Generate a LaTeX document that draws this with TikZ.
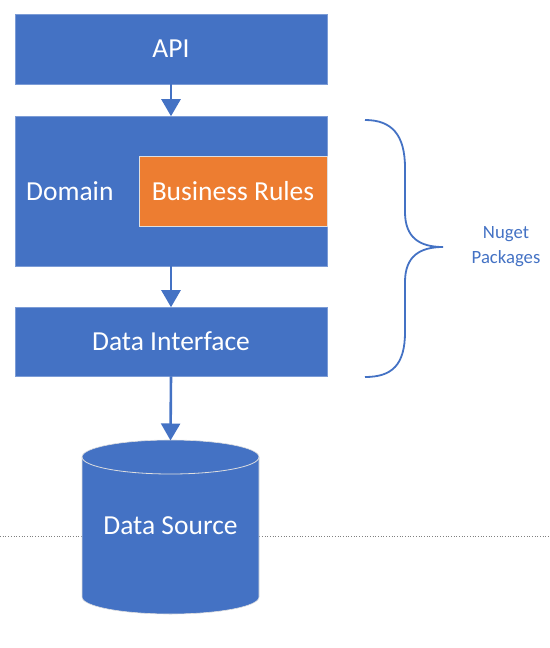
\documentclass[tikz,border=0pt]{standalone}
\usepackage{fontspec}
\setmainfont{Carlito}
\usetikzlibrary{arrows.meta}
\definecolor{mblue}{HTML}{4472C4}
\definecolor{morange}{HTML}{ED7D31}
\begin{document}
\begin{tikzpicture}[x=1pt,y=1pt,
  box/.style={fill=mblue, draw=mblue!70!white, line width=0.6pt, text=white, font=\fontsize{27.5}{32}\selectfont, inner sep=0pt},
  conn/.style={draw=mblue, line width=2.6pt, -{Triangle[width=19pt,length=17pt]}, shorten >=-0.5pt},
]
\useasboundingbox (0,0) rectangle (549,-648);
% dotted line
\draw[gray, dotted, line width=0.7pt] (0,-536) -- (549,-536);
% boxes
\node[box, minimum width=312pt, minimum height=70pt] (api) at (171,-49) {API};
\node[box, minimum width=312pt, minimum height=150pt] (dom) at (171,-191) {};
\node[text=white, font=\fontsize{27.5}{32}\selectfont, anchor=west, inner sep=0pt] (domlbl) at (26,-191) {Domain};
\node[fill=morange, draw=white!75!gray, line width=0.6pt, text=white, font=\fontsize{27.5}{32}\selectfont, minimum width=188pt, minimum height=70pt, inner sep=0pt] (br) at (233,-191) {Business Rules};
\node[box, minimum width=312pt, minimum height=69pt] (di) at (171,-341.5) {Data Interface};
% cylinder
\fill[mblue] (82,-457) -- (82,-597) arc (180:360:88.5 and 17) -- (259,-457) arc (0:180:88.5 and 17) -- cycle;
\draw[white!75!gray, line width=0.6pt] (82,-457) -- (82,-597) arc (180:360:88.5 and 17) -- (259,-457) arc (0:180:88.5 and 17) -- cycle;
\draw[white!75!gray, line width=0.8pt] (82,-457) arc (180:360:88.5 and 17);
\coordinate (dstop) at (170.5,-440);
\node[text=white, font=\fontsize{27.5}{32}\selectfont] (ds) at (170.5,-526) {Data Source};
% connectors
\draw[conn] (api.south) -- (dom.north);
\draw[conn] (dom.south) -- (di.north);
\draw[conn] (di.south) -- (dstop);
% brace
\coordinate (bt) at (365,-120);
\coordinate (bb) at (365,-377);
\coordinate (tip) at (443,-247);
\draw[mblue, line width=1.8pt] (bt) .. controls (392,-120) and (405,-135) .. (405,-168) -- (405,-212) .. controls (405,-238) and (420,-247) .. (tip)
  .. controls (420,-247) and (405,-256) .. (405,-282) -- (405,-332) .. controls (405,-365) and (392,-377) .. (bb);
\node[text=mblue, font=\fontsize{18.7}{25}\selectfont, align=center] (np) at (506,-246.5) {Nuget\\Packages};
\end{tikzpicture}
\end{document}
